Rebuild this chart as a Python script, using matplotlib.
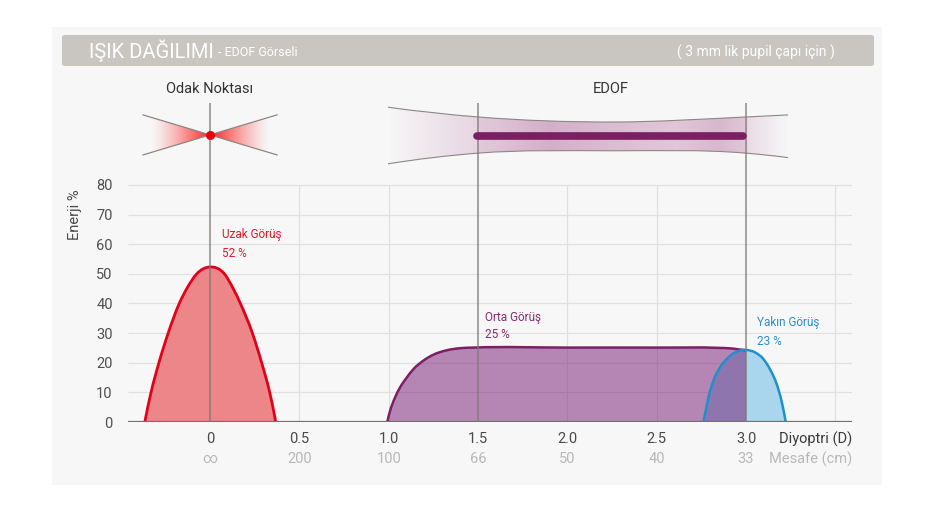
import numpy as np
import matplotlib
matplotlib.use('Agg')
import matplotlib.pyplot as plt
from matplotlib.patches import FancyBboxPatch, Rectangle, PathPatch, Polygon
from matplotlib.path import Path
from matplotlib.transforms import blended_transform_factory

# ---------------- data ----------------
diopter_ticks = [0, 0.5, 1.0, 1.5, 2.0, 2.5, 3.0]
diopter_labels = ["0", "0.5", "1.0", "1.5", "2.0", "2.5", "3.0"]
distance_labels = ["\u221e", "200", "100", "66", "50", "40", "33"]
y_ticks = [0, 10, 20, 30, 40, 50, 60, 70, 80]
grid_x = [0.5, 1.0, 2.0, 2.5, 3.5]

uzak_x = [-0.365, -0.330, -0.286, -0.234, -0.172, -0.130, -0.074, 0.0,
          0.080, 0.130, 0.170, 0.237, 0.289, 0.334, 0.368]
uzak_y = [0, 10, 20, 30, 40, 45, 50, 52.3, 50, 45, 40, 30, 20, 10, 0]

orta_x = [0.992, 1.007, 1.035, 1.063, 1.101, 1.138, 1.194, 1.250, 1.325, 1.399,
          1.474, 2.0, 2.5, 2.85, 2.92, 2.96, 3.0]
orta_y = [0, 3.6, 8.2, 11.6, 15.0, 17.8, 20.7, 22.7, 24.2, 24.9,
          25.1, 25.1, 25.1, 25.0, 24.8, 24.5, 24.2]

yakin_x = [2.761, 2.775, 2.789, 2.817, 2.854, 2.901, 2.948, 2.998, 3.050,
           3.097, 3.134, 3.172, 3.199, 3.222]
yakin_y = [0, 4.0, 8.2, 13.9, 18.4, 21.8, 23.75, 24.3, 23.5,
           21.25, 17.8, 12.7, 7.0, 0]

# illustration outlines (top area, same data coordinates)
x_lines_x = [-0.375, 0.375]
x_lines_top = 103.6
x_lines_bottom = 90.1
focus_point = (0.0, 96.9)
band_x = [0.996, 1.5, 2.256, 3.0, 3.235]
band_upper = [106.2, 102.9, 101.2, 102.9, 103.6]
band_lower = [87.1, 90.7, 91.5, 90.7, 89.2]
edof_bar = ([1.493, 2.985], 96.5)
marker_lines_x = [0.0, 1.5, 3.0]
marker_top = 107.5

# ---------------- helpers ----------------
def hermite_segments(xs, ys):
    """Cubic Bezier segments (smooth line) through the given points, y as a function of x."""
    x = np.asarray(xs, float)
    y = np.asarray(ys, float)
    h = np.diff(x)
    d = np.diff(y) / h
    n = len(x)
    m = np.zeros(n)
    for i in range(1, n - 1):
        m[i] = (d[i - 1] * h[i] + d[i] * h[i - 1]) / (h[i - 1] + h[i])
    if n > 2:
        m[0] = ((2 * h[0] + h[1]) * d[0] - h[0] * d[1]) / (h[0] + h[1])
        m[-1] = ((2 * h[-1] + h[-2]) * d[-1] - h[-1] * d[-2]) / (h[-1] + h[-2])
    else:
        m[:] = d[0]
    verts, codes = [], []
    for i in range(n - 1):
        verts += [(x[i] + h[i] / 3, y[i] + m[i] * h[i] / 3),
                  (x[i + 1] - h[i] / 3, y[i + 1] - m[i + 1] * h[i] / 3),
                  (x[i + 1], y[i + 1])]
        codes += [Path.CURVE4] * 3
    return verts, codes

def smooth_line(xs, ys):
    v, c = hermite_segments(xs, ys)
    return Path([(xs[0], ys[0])] + v, [Path.MOVETO] + c)

def smooth_area(xs, ys):
    v, c = hermite_segments(xs, ys)
    verts = [(xs[0], 0)] + [(xs[0], ys[0])] + v + [(xs[-1], 0), (xs[0], 0)]
    codes = [Path.MOVETO, Path.LINETO] + c + [Path.LINETO, Path.CLOSEPOLY]
    return Path(verts, codes)

# ---------------- figure ----------------
W, H = 945, 513
fig = plt.figure(figsize=(W / 100, H / 100), dpi=100)
fig.patch.set_facecolor('white')

def fx(px):
    return px / W

def fy(py):
    return 1 - py / H

FONT = ['Roboto', 'DejaVu Sans']

panel = Rectangle((fx(52), fy(485)), fx(882) - fx(52), fy(27) - fy(485),
                  transform=fig.transFigure, facecolor='#f7f7f7', edgecolor='none', zorder=-10)
fig.add_artist(panel)
tbar = FancyBboxPatch((fx(62), fy(66)), fx(874) - fx(62), fy(35) - fy(66),
                      boxstyle='round,pad=0,rounding_size=0.004',
                      transform=fig.transFigure, facecolor='#c9c6c1', edgecolor='none', zorder=-9)
fig.add_artist(tbar)

t1 = fig.text(fx(89), fy(51), "IŞIK DAĞILIMI", fontsize=14.5, color='white',
              va='center', ha='left', family=FONT)
fig.canvas.draw()
bb = t1.get_window_extent()
fig.text((bb.x1 + 4) / W, fy(52), "- EDOF Görseli", fontsize=9, color='white',
         va='center', ha='left', family=FONT)
fig.text(fx(835), fy(52), "( 3 mm lik pupil çapı için )", fontsize=10, color='white',
         va='center', ha='right', family=FONT)

ax = fig.add_axes([fx(128), fy(422), fx(852) - fx(128), fy(90) - fy(422)])
ax.set_facecolor('none')
ax.set_xlim(-0.459, 3.593)
ax.set_ylim(0, 112)
for s in ax.spines.values():
    s.set_visible(False)
ax.set_xticks([])
ax.set_yticks(y_ticks)
ax.set_yticklabels([str(v) for v in y_ticks], family=FONT, fontsize=10.5, color='#505050')
ax.tick_params(axis='y', length=0, pad=11)

# grid
ax.hlines(y_ticks[1:], -0.459, 3.593, color='#e0e0e0', lw=0.9, zorder=0)
ax.vlines(grid_x, 0, 80, color='#e0e0e0', lw=0.9, zorder=0)

# curves (smooth lines through the read points)
ax.add_patch(PathPatch(smooth_area(yakin_x, yakin_y), facecolor='#a9d6ec', lw=0, zorder=1))
ax.add_patch(PathPatch(smooth_area(uzak_x, uzak_y), facecolor='#ec8688', lw=0, zorder=1))
ax.add_patch(PathPatch(smooth_area(orta_x, orta_y), facecolor=(117/255, 22/255, 113/255),
                       alpha=0.5, lw=0, zorder=1.5))
ax.add_patch(PathPatch(smooth_line(uzak_x, uzak_y), facecolor='none', edgecolor='#e2001a',
                       lw=2, zorder=2))
ax.add_patch(PathPatch(smooth_line(orta_x, orta_y), facecolor='none', edgecolor='#7d1f64',
                       lw=1.8, zorder=2))
ax.add_patch(PathPatch(smooth_line(yakin_x, yakin_y), facecolor='none', edgecolor='#1d91d0',
                       lw=1.8, zorder=2.2))

# baseline
ax.hlines(0, -0.459, 3.593, color='#707070', lw=1.6, zorder=3)

# vertical marker lines
ax.vlines(marker_lines_x, 0, marker_top, color='#7d7873', lw=1.2, alpha=0.8, zorder=4)

# ---- Odak illustration ----
xl, xr = x_lines_x
cx, cy = focus_point
for side in (-1, 1):
    xe = xl if side < 0 else xr
    poly = Polygon([(xe, x_lines_top), (cx, cy), (xe, x_lines_bottom)], closed=True,
                   transform=ax.transData, facecolor='none', edgecolor='none')
    ax.add_patch(poly)
    n = 256
    t = np.linspace(0, 1, n)  # 0 at outer edge, 1 at centre
    alpha = np.clip((t - 0.12) / 0.88, 0, 1) ** 1.3 * 0.97
    img = np.zeros((1, n, 4))
    img[..., 0] = 1.0
    img[..., 1] = 0.10
    img[..., 2] = 0.10
    img[0, :, 3] = alpha if side < 0 else alpha[::-1]
    ext = [xe, cx, x_lines_bottom, x_lines_top] if side < 0 else [cx, xe, x_lines_bottom, x_lines_top]
    im = ax.imshow(img, extent=ext, aspect='auto', interpolation='bilinear', zorder=1, origin='lower')
    im.set_clip_path(poly)
ax.plot([xl, xr], [x_lines_top, x_lines_bottom], color='#8c8782', lw=0.9, zorder=3)
ax.plot([xl, xr], [x_lines_bottom, x_lines_top], color='#8c8782', lw=0.9, zorder=3)
ax.plot([cx], [cy], 'o', color='#e8000b', ms=6.5, zorder=5, mec='none')

# ---- EDOF illustration ----
uv, uc = hermite_segments(band_x, band_upper)
lv, lc = hermite_segments(band_x[::-1], band_lower[::-1]) if False else (None, None)
lv_f, lc_f = hermite_segments(band_x, band_lower)
# reverse the lower Bezier chain
lower_pts = [(band_x[0], band_lower[0])] + lv_f
rev = []
for k in range(len(band_x) - 1, 0, -1):
    seg = lower_pts[3 * (k - 1): 3 * (k - 1) + 4]
    rev += [seg[2], seg[1], seg[0]]
band_path = Path([(band_x[0], band_upper[0])] + uv + [(band_x[-1], band_lower[-1])] + rev
                 + [(band_x[0], band_upper[0])],
                 [Path.MOVETO] + uc + [Path.LINETO] + [Path.CURVE4] * len(rev) + [Path.CLOSEPOLY])
band_patch = PathPatch(band_path, facecolor='none', edgecolor='none', transform=ax.transData)
ax.add_patch(band_patch)
n = 512
gx = np.linspace(band_x[0], band_x[-1], n)
stops_x = [0.996, 1.2, 1.49, 1.51, 1.9, 2.2, 2.6, 2.85, 2.99, 3.01, 3.235]
stops_a = [0.0, 0.10, 0.22, 0.30, 0.48, 0.40, 0.32, 0.42, 0.32, 0.18, 0.0]
img = np.zeros((1, n, 4))
img[..., 0] = 175 / 255
img[..., 1] = 95 / 255
img[..., 2] = 150 / 255
img[0, :, 3] = np.interp(gx, stops_x, stops_a)
im = ax.imshow(img, extent=[band_x[0], band_x[-1], min(band_lower) - 1, max(band_upper) + 1],
               aspect='auto', interpolation='bilinear', zorder=1, origin='lower')
im.set_clip_path(band_patch)
ax.add_patch(PathPatch(smooth_line(band_x, band_upper), facecolor='none', edgecolor='#8c8782',
                       lw=0.8, zorder=3))
ax.add_patch(PathPatch(smooth_line(band_x, band_lower), facecolor='none', edgecolor='#8c8782',
                       lw=0.8, zorder=3))
ax.plot(edof_bar[0], [edof_bar[1]] * 2, color='#7b1f63', lw=5.5, solid_capstyle='round', zorder=5)

ax.set_xlim(-0.459, 3.593)
ax.set_ylim(0, 112)

# ---- labels ----
tr = blended_transform_factory(ax.transData, fig.transFigure)
for xv, l1, l2 in zip(diopter_ticks, diopter_labels, distance_labels):
    ax.text(xv, fy(439), l1, transform=tr, ha='center', va='center', fontsize=10.5,
            color='#4a4a4a', family=FONT)
    ax.text(xv, fy(459), l2, transform=tr, ha='center', va='center', fontsize=10.5,
            color='#b8b8b8', family=FONT)
fig.text(fx(852), fy(439), "Diyoptri (D)", ha='right', va='center', fontsize=10.5,
         color='#3a3a3a', family=FONT)
fig.text(fx(852), fy(459), "Mesafe (cm)", ha='right', va='center', fontsize=10.5,
         color='#b8b8b8', family=FONT)
fig.text(fx(75), fy(215), "Enerji %", rotation=90, ha='center', va='center', fontsize=10.5,
         color='#4a4a4a', family=FONT)

ax.text(0.0, fy(89), "Odak Noktası", transform=tr, ha='center', va='center', fontsize=10.5,
        color='#333333', family=FONT)
ax.text(2.245, fy(89), "EDOF", transform=tr, ha='center', va='center', fontsize=10.5,
        color='#333333', family=FONT)

ax.text(0.067, 63.1, "Uzak Görüş", ha='left', va='center', fontsize=8.5, color='#e3172f', family=FONT)
ax.text(0.067, 57.0, "52 %", ha='left', va='center', fontsize=8.5, color='#e3172f', family=FONT)
ax.text(1.539, 35.1, "Orta Görüş", ha='left', va='center', fontsize=8.5, color='#8a2b6f', family=FONT)
ax.text(1.539, 29.4, "25 %", ha='left', va='center', fontsize=8.5, color='#8a2b6f', family=FONT)
ax.text(3.061, 33.4, "Yakın Görüş", ha='left', va='center', fontsize=8.5, color='#2a8fcb', family=FONT)
ax.text(3.061, 27.3, "23 %", ha='left', va='center', fontsize=8.5, color='#2a8fcb', family=FONT)

fig.savefig('out.png', dpi=100, facecolor='white')
